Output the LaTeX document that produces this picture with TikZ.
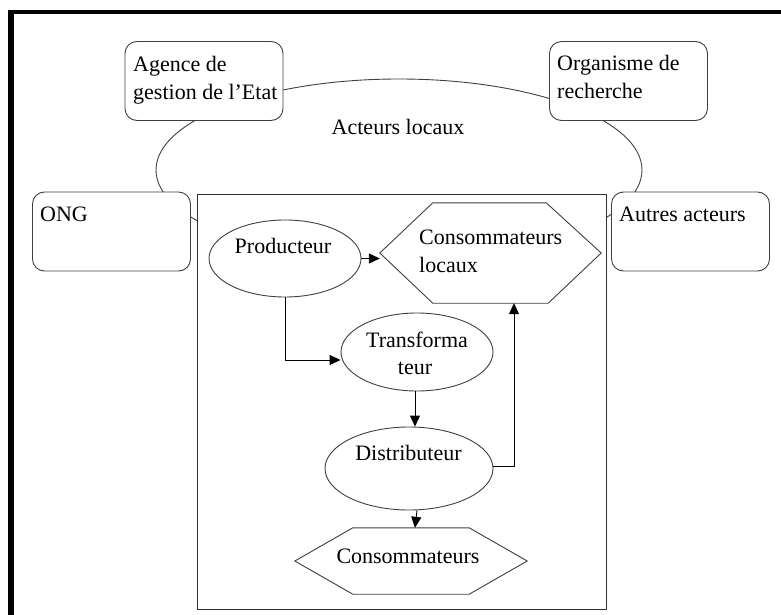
\documentclass[tikz,border=0pt]{standalone}
\usepackage{fontspec}
\setmainfont{Liberation Serif}
\usetikzlibrary{shapes.geometric,arrows.meta}
\begin{document}
\begin{tikzpicture}[x=1pt,y=-1pt,
 shapeline/.style={draw=black!75, line width=0.9pt},
 actorbox/.style={shapeline, fill=white, rounded corners=12pt, minimum width=158pt, minimum height=79pt, inner sep=0pt},
 oval/.style={shapeline, ellipse, fill=white, inner sep=0pt},
 hexarea/.style={rectangle, inner sep=0pt},
 txt/.style={inner sep=0pt, anchor=base, font=\fontsize{22}{28}\selectfont},
 ltxt/.style={txt, anchor=base west},
 arr/.style={draw=black, line width=0.9pt, -{Triangle[length=11pt,width=10pt]}},
]
\useasboundingbox (0,0) rectangle (781,615);
\fill[white] (0,0) rectangle (781,615);
\fill[black] (8,10) rectangle (781,14.5);
\fill[black] (8,10) rectangle (13.5,615);
% big ellipse
\node[oval, minimum width=486pt, minimum height=182pt] (acteurs) at (399,170) {};
\node[txt] (tacteurs) at (398,135) {Acteurs locaux};
% actor boxes
\node[actorbox] (agence) at (204,81) {};
\node[ltxt] (tagence1) at (133,71.5) {Agence de};
\node[ltxt] (tagence2) at (133,99.5) {gestion de l’Etat};
\node[actorbox] (organisme) at (628.5,81) {};
\node[ltxt] (torg1) at (557,71) {Organisme de};
\node[ltxt] (torg2) at (557,99) {recherche};
\node[actorbox] (ong) at (111.5,231.5) {};
\node[ltxt] (tong) at (40,221) {ONG};
\node[actorbox] (autres) at (690.5,231.5) {};
\node[ltxt] (tautres) at (619,221) {Autres acteurs};
% inner frame
\node[draw=black!80, line width=0.9pt, fill=white, minimum width=409pt, minimum height=415pt, inner sep=0pt] (cadre) at (401.5,401.5) {};
% nodes inside
\node[oval, minimum width=152pt, minimum height=77pt] (prod) at (285,258.5) {};
\node[txt] (tprod) at (283,253) {Producteur};
\node[hexarea, minimum width=221pt, minimum height=100pt] (consloc) at (490.5,253) {};
\draw[shapeline, fill=white] (consloc.west) -- ([xshift=53pt]consloc.north west) -- ([xshift=-55pt]consloc.north east) -- (consloc.east) -- ([xshift=-53pt]consloc.south east) -- ([xshift=53pt]consloc.south west) -- cycle;
\node[ltxt] (tconsloc1) at (419,244) {Consommateurs};
\node[ltxt] (tconsloc2) at (419,272) {locaux};
\node[oval, minimum width=152pt, minimum height=78pt] (trans) at (417,352) {};
\node[txt] (ttrans1) at (417,347) {Transforma};
\node[txt] (ttrans2) at (415,374) {teur};
\node[oval, minimum width=168pt, minimum height=83pt] (dist) at (409,468.5) {};
\node[txt] (tdist) at (408.5,460) {Distributeur};
\node[hexarea, minimum width=232pt, minimum height=66pt] (cons) at (411,561) {};
\draw[shapeline, fill=white] (cons.west) -- ([xshift=58pt]cons.north west) -- ([xshift=-58pt]cons.north east) -- (cons.east) -- ([xshift=-58pt]cons.south east) -- ([xshift=58pt]cons.south west) -- cycle;
\node[txt] (tcons) at (408,563) {Consommateurs};
% arrows
\draw[arr] (prod.east) -- (prod.east -| consloc.west);
\draw[arr] (prod.south) |- ([yshift=-8pt]trans.west);
\draw[arr] ([xshift=-2pt]trans.south) -- ([xshift=-2pt]trans.south |- dist.north);
\draw[arr] ([yshift=2pt]dist.east) -| ([xshift=23.5pt]consloc.south);
\draw[arr] (trans.south |- dist.south) -- ([xshift=4pt]cons.north);
\end{tikzpicture}
\end{document}
